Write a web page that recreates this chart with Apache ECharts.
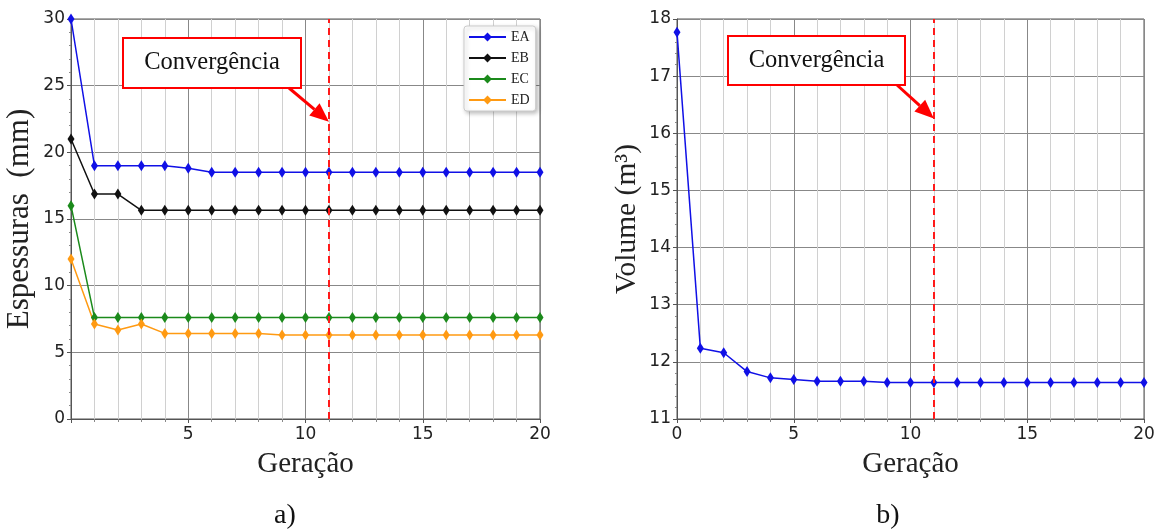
<!DOCTYPE html>
<html>
<head>
<meta charset="utf-8">
<script src="https://cdn.jsdelivr.net/npm/echarts@6/dist/echarts.min.js"></script>
<style>
html,body{margin:0;padding:0;background:#fff;}
#c{width:1165px;height:529px;}
</style>
</head>
<body>
<div id="c"></div>
<script>
// ---- data ----
const generations = [0,1,2,3,4,5,6,7,8,9,10,11,12,13,14,15,16,17,18,19,20];
const EA = [30,19.0,19.0,19.0,19.0,18.8,18.5,18.5,18.5,18.5,18.5,18.5,18.5,18.5,18.5,18.5,18.5,18.5,18.5,18.5,18.5];
const EB = [21,16.87,16.87,15.65,15.65,15.65,15.65,15.65,15.65,15.65,15.65,15.65,15.65,15.65,15.65,15.65,15.65,15.65,15.65,15.65,15.65];
const EC = [16,7.62,7.62,7.62,7.62,7.62,7.62,7.62,7.62,7.62,7.62,7.62,7.62,7.62,7.62,7.62,7.62,7.62,7.62,7.62,7.62];
const ED = [12,7.12,6.67,7.12,6.42,6.42,6.42,6.42,6.42,6.3,6.3,6.3,6.3,6.3,6.3,6.3,6.3,6.3,6.3,6.3,6.3];
const VOLUME = [17.77,12.24,12.16,11.83,11.72,11.69,11.66,11.66,11.66,11.64,11.64,11.64,11.64,11.64,11.64,11.64,11.64,11.64,11.64,11.64,11.64];
const convergenceGen = 11;
const leftYTicks = {min:0, max:30, interval:5};
const rightYTicks = {min:11, max:18, interval:1};
const xTicks = {min:0, max:20, interval:5};
const annotationText = 'Convergência';
const captions = ['a)','b)'];

const pair = arr => arr.map((v,i)=>[generations[i], v]);

const chart = echarts.init(document.getElementById('c'));
const serif = '"Liberation Serif","DejaVu Serif",serif';
const sans = '"DejaVu Sans",sans-serif';

function xAxisCfg(gi, showMin){
  return {
    type:'value', gridIndex:gi, min:xTicks.min, max:xTicks.max, interval:xTicks.interval,
    name:'Geração', nameLocation:'middle', nameGap:31,
    nameTextStyle:{fontFamily:serif, fontSize:29, color:'#222'},
    axisLine:{show:true, onZero:false, lineStyle:{color:'#555', width:1}},
    axisTick:{show:true, length:4, lineStyle:{color:'#555'}},
    minorTick:{show:true, splitNumber:5, length:3, lineStyle:{color:'#888'}},
    axisLabel:{fontFamily:sans, fontSize:17, color:'#222', margin:7, showMinLabel:showMin},
    splitLine:{show:true, lineStyle:{color:'#888', width:1}},
    minorSplitLine:{show:true, lineStyle:{color:'#d0d0d0', width:1}}
  };
}
function yAxisCfg(gi, t, name, fs, gap){
  return {
    type:'value', gridIndex:gi, min:t.min, max:t.max, interval:t.interval,
    name:name, nameLocation:'middle', nameGap:gap,
    nameTextStyle:{fontFamily:serif, fontSize:fs, color:'#222'},
    axisLine:{show:true, lineStyle:{color:'#555', width:1}},
    axisTick:{show:true, length:4, lineStyle:{color:'#555'}},
    minorTick:{show:true, splitNumber:5, length:2, lineStyle:{color:'#888'}},
    axisLabel:{fontFamily:sans, fontSize:17, color:'#222', margin:6},
    splitLine:{show:true, lineStyle:{color:'#888', width:1}},
    minorSplitLine:{show:false}
  };
}
function lineSeries(name, data, color, xi, yi, withMark){
  const s = {
    name:name, type:'line', xAxisIndex:xi, yAxisIndex:yi, data:pair(data),
    symbol:'diamond', symbolSize:[7,11], showSymbol:true,
    lineStyle:{color:color, width:1.5}, itemStyle:{color:color},
    emphasis:{disabled:true}, animation:false, z:3
  };
  if(withMark){
    s.markLine = {
      silent:true, symbol:'none', label:{show:false},
      lineStyle:{color:'#ff1a1a', type:[7,5], width:2},
      data:[{xAxis:convergenceGen}]
    };
  }
  return s;
}

chart.setOption({
  animation:false,
  backgroundColor:'#fff',
  grid:[
    {left:71, right:1165-540, top:19, bottom:529-419, show:true, borderColor:'#555', borderWidth:1},
    {left:677, right:1165-1144, top:19, bottom:529-419, show:true, borderColor:'#555', borderWidth:1}
  ],
  xAxis:[xAxisCfg(0,false), xAxisCfg(1,true)],
  yAxis:[yAxisCfg(0,leftYTicks,'Espessuras  (mm)',31,36), yAxisCfg(1,rightYTicks,'Volume (m³)',29.5,35)],
  legend:{
    data:['EA','EB','EC','ED'], orient:'vertical', left:464, top:26,
    itemWidth:37, itemHeight:11, itemGap:7,
    padding:[4,6,4,4],
    backgroundColor:'#fff', borderColor:'#ccc', borderWidth:1, borderRadius:3,
    shadowColor:'rgba(0,0,0,0.25)', shadowBlur:4, shadowOffsetX:2, shadowOffsetY:2,
    textStyle:{fontFamily:serif, fontSize:14, color:'#222'}
  },
  series:[
    lineSeries('EA', EA, '#1010e6', 0, 0, true),
    lineSeries('EB', EB, '#111111', 0, 0, false),
    lineSeries('EC', EC, '#1b8a1b', 0, 0, false),
    lineSeries('ED', ED, '#ff9a12', 0, 0, false),
    lineSeries('Volume', VOLUME, '#1010e6', 1, 1, true)
  ]
});

// annotations
function annotation(gi, tipY, box){
  const tip = chart.convertToPixel({xAxisIndex:gi, yAxisIndex:gi}, [convergenceGen, tipY]);
  const start = [box.ax, box.y + box.h];
  const dx = tip[0]-start[0], dy = tip[1]-start[1];
  const L = Math.sqrt(dx*dx+dy*dy), ux = dx/L, uy = dy/L;
  const headLen = 19, headW = 8;
  const bx = tip[0]-ux*headLen, by = tip[1]-uy*headLen;
  return [
    {type:'rect', shape:{x:box.x, y:box.y, width:box.w, height:box.h},
     style:{fill:'#fff', stroke:'#ff0000', lineWidth:2}, z:10},
    {type:'text', x:box.x+box.w/2, y:box.y+box.h/2,
     style:{text:annotationText, fontFamily:serif, fontSize:24.5, fill:'#111', align:'center', verticalAlign:'middle'}, z:11},
    {type:'line', shape:{x1:start[0], y1:start[1], x2:bx, y2:by},
     style:{stroke:'#ff0000', lineWidth:3}, z:10},
    {type:'polygon', shape:{points:[[tip[0],tip[1]],[bx-uy*headW, by+ux*headW],[bx+uy*headW, by-ux*headW]]},
     style:{fill:'#ff0000'}, z:10}
  ];
}
const g = [].concat(
  annotation(0, 22.3, {x:123, y:38, w:178, h:50, ax:289}),
  annotation(1, 16.26, {x:728, y:36, w:177, h:49, ax:897}),
  [
    {type:'text', x:285, y:516, style:{text:captions[0], fontFamily:serif, fontSize:28, fill:'#111', align:'center', verticalAlign:'middle'}},
    {type:'text', x:888, y:516, style:{text:captions[1], fontFamily:serif, fontSize:28, fill:'#111', align:'center', verticalAlign:'middle'}}
  ]
);
chart.setOption({graphic:g});
</script>
</body>
</html>
